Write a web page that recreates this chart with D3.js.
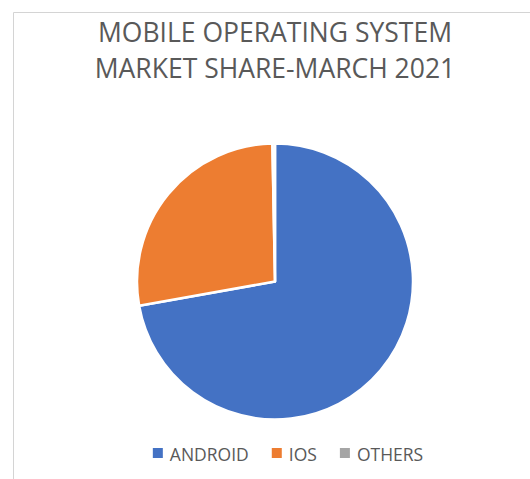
<!DOCTYPE html>
<html>
<head>
<meta charset="utf-8">
<script src="https://cdn.jsdelivr.net/npm/d3@7"></script>
<style>
  body { margin: 0; background: #fff; }
  text { font-family: "Open Sans", "Liberation Sans", sans-serif; fill: #595959; }
</style>
</head>
<body>
<svg id="chart" width="530" height="479"></svg>
<script>
var titleLines = ['MOBILE OPERATING SYSTEM', 'MARKET SHARE-MARCH 2021'];
var categories = ['ANDROID', 'IOS', 'OTHERS'];
var shares = [72.2, 27.5, 0.3];
var colors = ['#4472C4', '#ED7D31', '#A5A5A5'];

var svg = d3.select('#chart');
var cx = 275, cy = 281.5, radius = 138;

// chart area border (only top and left visible in the crop)
svg.append('path')
  .attr('d', 'M13.5,479 V12.5 H530')
  .attr('fill', 'none')
  .attr('stroke', '#d4d4d4')
  .attr('stroke-width', 1);

svg.selectAll('.title')
  .data(titleLines)
  .enter().append('text')
  .attr('class', 'title')
  .attr('x', 275)
  .attr('y', function(d, i) { return 42 + i * 36; })
  .attr('text-anchor', 'middle')
  .style('font-size', '26.5px')
  .text(function(d) { return d; });

var data = categories.map(function(c, i) {
  return { name: c, value: shares[i] };
});

var pie = d3.pie()
  .sort(null)
  .value(function(d) { return d.value; });

var arc = d3.arc()
  .innerRadius(0)
  .outerRadius(radius);

var color = d3.scaleOrdinal()
  .domain(categories)
  .range(colors);

svg.append('g')
  .attr('transform', 'translate(' + cx + ',' + cy + ')')
  .selectAll('path')
  .data(pie(data))
  .enter().append('path')
  .attr('d', arc)
  .attr('fill', function(d) { return color(d.data.name); })
  .attr('stroke', '#fff')
  .attr('stroke-width', 2.5)
  .attr('stroke-linejoin', 'round');

// legend, laid out left to right and centred
var legend = svg.append('g');
var items = legend.selectAll('g')
  .data(categories)
  .enter().append('g');

items.append('rect')
  .attr('width', 10)
  .attr('height', 10)
  .attr('y', -13)
  .attr('fill', function(d) { return color(d); });

items.append('text')
  .attr('x', 17)
  .style('font-size', '17.5px')
  .text(function(d) { return d; });

var x = 0;
items.each(function() {
  var w = d3.select(this).select('text').node().getComputedTextLength() + 17;
  d3.select(this).attr('transform', 'translate(' + x + ',0)');
  x += w + 23;
});
x -= 23;
legend.attr('transform', 'translate(' + (288 - x / 2) + ',461)');
</script>
</body>
</html>
